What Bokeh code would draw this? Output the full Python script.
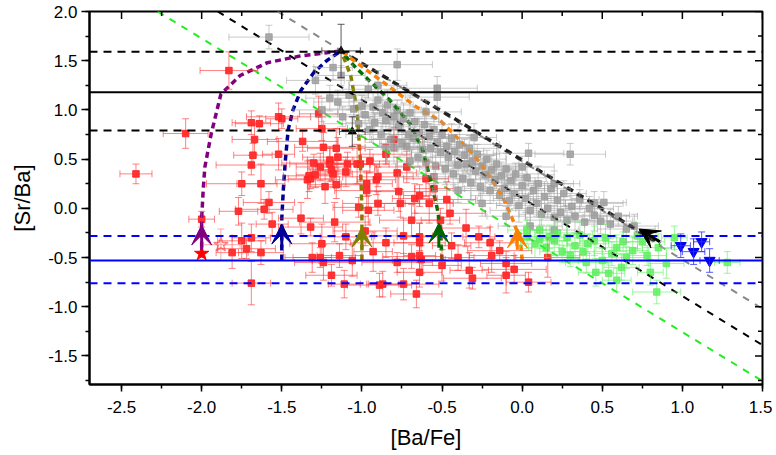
from bokeh.embed import file_html
from bokeh.resources import INLINE
from bokeh.plotting import figure
from bokeh.models import (ColumnDataSource, Range1d, Whisker, TeeHead,
                          Arrow, VeeHead, Span, SingleIntervalTicker, PrintfTickFormatter)

# ---- data ----
red_x = [-2.41, -2.10, -1.83, -1.69, -1.64, -1.52, -1.50, -1.27, -1.25, -1.67,
         -1.37, -1.16, -1.68, -1.52, -1.30, -1.26, -1.20, -1.19, -1.10, -1.03,
         -0.95, -1.69, -1.33, -1.29, -1.34, -1.32, -1.16, -1.23, -1.75, -1.63,
         -0.91, -1.58, -0.97, -1.77, -1.61, -1.38, -1.17, -1.56, -0.96, -1.32,
         -1.69, -1.75, -1.72, -1.81, -1.63, -1.25, -1.10, -1.31, -1.26, -1.24,
         -1.14, -1.06, -0.93, -1.19, -1.11, -1.69, -0.98, -1.09, -1.01, -0.90,
         -0.78, -0.97, -0.77, -0.64, -0.67, -0.47, -0.90, -0.76, -1.02, -0.58,
         -0.69, -0.51, -0.74, -0.64, -0.27, -0.85, -0.64, -0.44, -0.14, -0.19,
         -0.69, -0.64, -0.63, -0.78, -0.50, -0.10, 0.16, -0.64, -0.31, -0.10,
         -0.87, -0.74, 0.04, -0.66, -0.89, -0.33, -2.00, -1.24, -1.20, -1.15,
         -1.18, -0.85, -0.72, -0.60, -0.80, -0.55, -0.45, -0.35, -0.40, -0.20, -0.05]
red_y = [0.35, 0.76, 1.40, 0.87, 0.86, 0.93, 0.91, 0.96, 0.81, 0.70,
         0.68, 0.61, 0.54, 0.55, 0.46, 0.42, 0.45, 0.39, 0.37, 0.45,
         0.48, 0.44, 0.33, 0.34, 0.29, 0.30, 0.24, 0.22, 0.25, 0.25,
         0.29, 0.06, 0.18, -0.03, -0.01, -0.10, -0.14, -0.16, -0.02, -0.19,
         -0.30, -0.33, -0.41, -0.45, -0.45, -0.36, -0.29, -0.50, -0.50, -0.55,
         -0.48, -0.53, -0.44, -0.68, -0.77, -0.76, -0.23, 0.45, 0.45, 0.32,
         0.36, 0.25, 0.17, 0.13, 0.10, 0.09, 0.05, 0.05, 0.01, 0.05,
         -0.12, -0.12, -0.28, -0.29, -0.29, -0.35, -0.35, -0.38, -0.43, -0.48,
         -0.49, -0.48, -0.52, -0.55, -0.58, -0.56, -0.50, -0.65, -0.71, -0.68,
         -0.77, -0.77, -0.75, -0.87, -0.78, -0.63, -0.11, 0.62, 0.49, 0.52,
         0.35, 0.55, 0.42, 0.30, 0.70, 0.20, -0.05, -0.20, -0.50, -0.35, -0.62]
red_ex = [0.10, 0.14, 0.18, 0.12, 0.15, 0.20, 0.10, 0.12, 0.16, 0.14,
          0.22, 0.18, 0.12, 0.10, 0.20, 0.15, 0.25, 0.12, 0.18, 0.14,
          0.10, 0.22, 0.16, 0.12, 0.20, 0.14, 0.18, 0.10, 0.22, 0.15,
          0.12, 0.16, 0.20, 0.12, 0.18, 0.14, 0.22, 0.10, 0.16, 0.20,
          0.12, 0.15, 0.18, 0.10, 0.14, 0.20, 0.16, 0.12, 0.22, 0.18,
          0.14, 0.25, 0.12, 0.16, 0.10, 0.12, 0.20, 0.14, 0.18, 0.22,
          0.12, 0.16, 0.20, 0.10, 0.14, 0.18, 0.22, 0.12, 0.16, 0.15,
          0.20, 0.12, 0.18, 0.14, 0.10, 0.22, 0.16, 0.12, 0.20, 0.14,
          0.18, 0.10, 0.15, 0.22, 0.12, 0.16, 0.20, 0.14, 0.18, 0.12,
          0.10, 0.22, 0.14, 0.16, 0.20, 0.12, 0.08, 0.18, 0.14, 0.22,
          0.12, 0.16, 0.20, 0.14, 0.18, 0.12, 0.22, 0.15, 0.10, 0.16, 0.20]
red_ey = [0.10, 0.15, 0.19, 0.12, 0.08, 0.14, 0.10, 0.18, 0.12, 0.15,
          0.10, 0.20, 0.12, 0.16, 0.09, 0.14, 0.18, 0.11, 0.15, 0.20,
          0.12, 0.10, 0.16, 0.13, 0.19, 0.10, 0.14, 0.17, 0.12, 0.20,
          0.15, 0.11, 0.18, 0.14, 0.10, 0.16, 0.20, 0.12, 0.15, 0.09,
          0.14, 0.18, 0.10, 0.16, 0.12, 0.20, 0.13, 0.15, 0.10, 0.18,
          0.12, 0.16, 0.20, 0.11, 0.14, 0.22, 0.15, 0.12, 0.18, 0.10,
          0.16, 0.13, 0.20, 0.11, 0.15, 0.18, 0.12, 0.14, 0.10, 0.20,
          0.16, 0.12, 0.18, 0.14, 0.11, 0.15, 0.20, 0.13, 0.10, 0.17,
          0.12, 0.19, 0.14, 0.10, 0.16, 0.12, 0.20, 0.15, 0.11, 0.18,
          0.13, 0.16, 0.10, 0.14, 0.12, 0.18, 0.08, 0.15, 0.12, 0.20,
          0.14, 0.10, 0.16, 0.18, 0.12, 0.15, 0.11, 0.19, 0.13, 0.16, 0.14]

gray_x = [-1.15, -1.12, -1.08, -1.05, -1.02, -1.00, -0.98, -0.96, -0.95, -0.93,
          -0.92, -0.90, -0.88, -0.87, -0.85, -0.84, -0.82, -0.80, -0.80, -0.78,
          -0.77, -0.75, -0.74, -0.72, -0.71, -0.70, -0.68, -0.67, -0.65, -0.64,
          -0.62, -0.61, -0.60, -0.58, -0.57, -0.55, -0.54, -0.53, -0.51, -0.50,
          -0.48, -0.47, -0.46, -0.44, -0.43, -0.42, -0.40, -0.39, -0.37, -0.36,
          -0.35, -0.33, -0.32, -0.31, -0.29, -0.28, -0.26, -0.25, -0.23, -0.22,
          -0.20, -0.19, -0.17, -0.16, -0.14, -0.13, -0.11, -0.10, -0.08, -0.07,
          -0.05, -0.04, -0.02, 0.00, 0.02, 0.03, 0.05, 0.07, 0.09, 0.10,
          0.12, 0.14, 0.16, 0.18, 0.20, 0.22, 0.24, 0.26, 0.28, 0.31,
          0.33, 0.36, 0.39, 0.42, 0.45, 0.49, 0.51, 0.55, 0.60, 0.65,
          0.70, -1.58, -1.29, -1.18, -1.13, -0.78, -0.53, -0.53, 0.04, 0.30,
          -1.20, -1.25, -0.85, -0.70, -0.55, -0.40, -0.25, -0.10, 0.05, 0.20,
          -0.90, -0.60, -0.30, 0.00, 0.20, 0.45]
gray_y = [1.08, 0.93, 1.15, 1.01, 0.86, 1.04, 0.95, 1.21, 0.80, 1.03,
          0.87, 1.10, 0.75, 0.97, 0.89, 1.05, 0.70, 0.93, 0.62, 1.00,
          0.83, 0.66, 0.91, 0.63, 0.75, 0.97, 0.71, 0.88, 0.52, 0.77,
          0.60, 0.85, 0.47, 0.73, 0.61, 0.80, 0.43, 0.67, 0.57, 0.75,
          0.40, 0.63, 0.52, 0.71, 0.35, 0.58, 0.44, 0.65, 0.30, 0.54,
          0.45, 0.61, 0.26, 0.48, 0.38, 0.55, 0.22, 0.43, 0.34, 0.50,
          0.18, 0.39, 0.29, 0.45, 0.13, 0.33, 0.20, 0.40, 0.08, 0.28,
          0.15, 0.35, 0.03, 0.23, 0.10, 0.31, -0.02, 0.18, 0.05, 0.25,
          -0.06, 0.12, 0.00, 0.20, -0.09, 0.08, -0.04, 0.15, -0.12, 0.02,
          -0.08, 0.09, -0.14, 0.00, -0.07, -0.13, 0.06, -0.16, -0.08, -0.21,
          -0.18, 1.74, 1.30, 1.43, 1.35, 1.46, 1.22, 1.13, 0.56, 0.55,
          1.12, 1.00, 0.62, 0.48, 0.32, 0.18, 0.05, -0.08, -0.18, -0.22,
          1.25, 0.98, 0.72, 0.42, 0.25, 0.05]
gray_ex = [0.15, 0.20, 0.12, 0.18, 0.22, 0.14, 0.25, 0.16, 0.20, 0.12,
           0.18, 0.15, 0.22, 0.14, 0.20, 0.16, 0.12, 0.25, 0.18, 0.15,
           0.20, 0.14, 0.22, 0.16, 0.12, 0.18, 0.25, 0.15, 0.20, 0.14,
           0.16, 0.22, 0.18, 0.12, 0.20, 0.15, 0.25, 0.14, 0.18, 0.22,
           0.16, 0.12, 0.20, 0.15, 0.22, 0.18, 0.14, 0.25, 0.16, 0.20,
           0.12, 0.18, 0.22, 0.15, 0.20, 0.14, 0.16, 0.25, 0.18, 0.12,
           0.20, 0.15, 0.22, 0.14, 0.18, 0.16, 0.25, 0.12, 0.20, 0.15,
           0.22, 0.18, 0.14, 0.16, 0.20, 0.12, 0.25, 0.15, 0.18, 0.22,
           0.14, 0.16, 0.20, 0.12, 0.18, 0.15, 0.22, 0.14, 0.25, 0.16,
           0.20, 0.12, 0.18, 0.15, 0.22, 0.20, 0.14, 0.16, 0.12, 0.18,
           0.15, 0.25, 0.18, 0.12, 0.15, 0.22, 0.25, 0.20, 0.22, 0.22,
           0.15, 0.18, 0.20, 0.14, 0.22, 0.16, 0.18, 0.12, 0.20, 0.15,
           0.18, 0.22, 0.14, 0.20, 0.16, 0.18]
gray_ey = [0.12, 0.10, 0.15, 0.08, 0.14, 0.11, 0.18, 0.09, 0.13, 0.16,
           0.10, 0.14, 0.12, 0.18, 0.09, 0.15, 0.11, 0.13, 0.17, 0.10,
           0.14, 0.12, 0.16, 0.09, 0.13, 0.18, 0.11, 0.15, 0.10, 0.14,
           0.12, 0.17, 0.09, 0.13, 0.15, 0.11, 0.18, 0.10, 0.14, 0.12,
           0.16, 0.09, 0.13, 0.15, 0.11, 0.17, 0.10, 0.14, 0.12, 0.16,
           0.09, 0.13, 0.18, 0.11, 0.15, 0.10, 0.14, 0.12, 0.17, 0.09,
           0.13, 0.15, 0.11, 0.18, 0.10, 0.14, 0.12, 0.16, 0.09, 0.13,
           0.15, 0.11, 0.17, 0.10, 0.14, 0.12, 0.16, 0.09, 0.13, 0.18,
           0.11, 0.15, 0.10, 0.14, 0.12, 0.17, 0.09, 0.13, 0.15, 0.11,
           0.18, 0.10, 0.14, 0.12, 0.16, 0.13, 0.11, 0.15, 0.10, 0.14,
           0.12, 0.12, 0.14, 0.12, 0.10, 0.16, 0.12, 0.10, 0.10, 0.11,
           0.13, 0.12, 0.14, 0.11, 0.15, 0.12, 0.13, 0.10, 0.14, 0.12,
           0.15, 0.12, 0.14, 0.11, 0.13, 0.12]

green_x = [0.03, 0.11, 0.20, 0.25, 0.33, 0.38, 0.45, 0.50, 0.46, 0.54,
           0.59, 0.59, 0.63, 0.69, 0.75, 0.80, 0.84, 0.90, 1.28, 0.03,
           0.11, 0.17, 0.08, 0.15, 0.22, 0.28, 0.30, 0.36, 0.41, 0.52,
           0.56, 0.65, 0.72, 0.78, 0.85, 0.95, 0.40, 0.62]
green_y = [-0.29, -0.31, -0.33, -0.44, -0.38, -0.44, -0.33, -0.53, -0.65, -0.66,
           -0.40, -0.73, -0.34, -0.43, -0.34, -0.65, -0.85, -0.56, -0.55, -0.22,
           -0.22, -0.29, -0.36, -0.40, -0.25, -0.30, -0.48, -0.27, -0.36, -0.30,
           -0.46, -0.50, -0.28, -0.48, -0.40, -0.30, -0.55, -0.60]
green_ex = [0.10, 0.12, 0.08, 0.14, 0.10, 0.12, 0.09, 0.15, 0.11, 0.10,
            0.13, 0.09, 0.12, 0.10, 0.14, 0.08, 0.15, 0.11, 0.08, 0.12,
            0.10, 0.13, 0.09, 0.11, 0.14, 0.10, 0.12, 0.08, 0.13, 0.10,
            0.11, 0.14, 0.09, 0.12, 0.10, 0.08, 0.13, 0.11]
green_ey = [0.12, 0.10, 0.14, 0.11, 0.13, 0.10, 0.15, 0.12, 0.14, 0.11,
            0.13, 0.12, 0.10, 0.14, 0.11, 0.13, 0.12, 0.15, 0.11, 0.10,
            0.13, 0.12, 0.14, 0.10, 0.12, 0.15, 0.11, 0.13, 0.10, 0.14,
            0.12, 0.11, 0.13, 0.10, 0.14, 0.12, 0.11, 0.13]

blue_x = [0.99, 1.07, 1.12, 1.17]
blue_y = [-0.38, -0.44, -0.34, -0.53]
blue_ex = [0.06, 0.07, 0.05, 0.06]
blue_ey = [0.12, 0.13, 0.10, 0.12]

tri_x = [-1.13, -1.06]
tri_y = [1.60, 0.78]
tri_ex = [0.12, 0.08]
tri_ey = [0.27, 0.15]

star_x = [-2.00]
star_y = [-0.46]
ostar_x = [-1.88]
ostar_y = [-0.37]
ostar_ex = [0.12]
ostar_ey = [0.16]

# horizontal reference levels
black_solid = [1.18]
black_dashed = [1.59, 0.79]
blue_solid = [-0.53]
blue_dashed = [-0.28, -0.76]

# diagonal dashed lines (end points)
diag_green_x, diag_green_y = [-2.275, 1.5], [2.0, -1.755]
diag_black_x, diag_black_y = [-1.90, 1.5], [2.0, -1.39]
diag_gray_x, diag_gray_y = [-1.527, 1.5], [2.0, -1.02]
dark_x, dark_y = [-1.13, -0.37, 0.07, 0.86], [1.60, 0.86, 0.42, -0.36]

# mixing curves
purple_x = [-2.00, -2.00, -1.99, -1.98, -1.94, -1.88, -1.76, -1.59, -1.38, -1.22, -1.13]
purple_y = [-0.50, -0.10, 0.20, 0.42, 0.76, 1.16, 1.35, 1.48, 1.55, 1.58, 1.60]
navy_x = [-1.50, -1.50, -1.49, -1.477, -1.46, -1.43, -1.38, -1.30, -1.22, -1.13]
navy_y = [-0.53, -0.10, 0.20, 0.50, 0.80, 1.00, 1.20, 1.38, 1.50, 1.60]
olive_x = [-1.00, -1.00, -1.01, -1.03, -1.07, -1.13]
olive_y = [-0.53, 0.00, 0.50, 1.00, 1.35, 1.60]
dgreen_x = [-0.50, -0.51, -0.53, -0.57, -0.62, -0.70, -0.82, -0.93, -1.05, -1.13]
dgreen_y = [-0.53, -0.20, 0.00, 0.28, 0.59, 0.86, 1.09, 1.26, 1.45, 1.60]
orange_x = [0.00, -0.01, -0.06, -0.12, -0.22, -0.30, -0.43, -0.51, -0.66, -0.865, -1.05, -1.13]
orange_y = [-0.53, -0.33, -0.11, 0.11, 0.37, 0.54, 0.76, 0.89, 1.03, 1.28, 1.50, 1.60]

arrow_x = [-2.00, -1.50, -1.00, -0.52, -0.03]
arrow_y0 = [-0.42, -0.40, -0.41, -0.40, -0.42]
arrow_y1 = [-0.17, -0.16, -0.19, -0.15, -0.20]
arrow_colors = ["#800080", "#000099", "#808000", "#006600", "#ff8000"]
black_arrow = [0.86, -0.34, 0.73, -0.21]

# mirror ticks on the top and right frame edges
top_major = [-2.5, -2.0, -1.5, -1.0, -0.5, 0.0, 0.5, 1.0, 1.5]
top_minor = [-2.25, -1.75, -1.25, -0.75, -0.25, 0.25, 0.75, 1.25]
right_major = [-1.5, -1.0, -0.5, 0.0, 0.5, 1.0, 1.5, 2.0]
right_minor = [-1.75, -1.25, -0.75, -0.25, 0.25, 0.75, 1.25, 1.75]

FONT = "Liberation Sans"
X0, X1, Y0, Y1 = -2.7, 1.5, -1.79, 2.0

p = figure(frame_width=673, frame_height=373,
           x_range=Range1d(X0, X1), y_range=Range1d(Y0, Y1),
           output_backend="svg", toolbar_location=None,
           min_border_left=89, min_border_top=11, min_border_right=10, min_border_bottom=4)
p.xgrid.visible = False
p.ygrid.visible = False
p.outline_line_color = "black"
p.outline_line_width = 2


def err_source(xs, ys, exs, eys):
    return ColumnDataSource(dict(
        x=xs, y=ys,
        xl=[a - e for a, e in zip(xs, exs)], xu=[a + e for a, e in zip(xs, exs)],
        yl=[b - e for b, e in zip(ys, eys)], yu=[b + e for b, e in zip(ys, eys)]))


def add_err(src, color, alpha, cap=7):
    for dim, base, lo, up in (("height", "x", "yl", "yu"), ("width", "y", "xl", "xu")):
        p.add_layout(Whisker(source=src, base=base, lower=lo, upper=up, dimension=dim,
                             line_color=color, line_alpha=alpha, line_width=1, level="glyph",
                             upper_head=TeeHead(size=cap, line_color=color, line_alpha=alpha),
                             lower_head=TeeHead(size=cap, line_color=color, line_alpha=alpha)))


red_src = err_source(red_x, red_y, red_ex, red_ey)
gray_src = err_source(gray_x, gray_y, gray_ex, gray_ey)
green_src = err_source(green_x, green_y, green_ex, green_ey)
blue_src = err_source(blue_x, blue_y, blue_ex, blue_ey)
tri_src = err_source(tri_x, tri_y, tri_ex, tri_ey)
ostar_src = err_source(ostar_x, ostar_y, ostar_ex, ostar_ey)

add_err(red_src, "#ff3030", 0.6)
p.scatter("x", "y", source=red_src, marker="square", size=6.5, color="#ff1f1f", alpha=0.9)
add_err(gray_src, "#9e9e9e", 0.55)
p.scatter("x", "y", source=gray_src, marker="square", size=6.5, color="#979797", alpha=0.8)
add_err(green_src, "#5cf05c", 0.6)
p.scatter("x", "y", source=green_src, marker="square", size=6.5, color="#62ee62", alpha=0.85)

# reference levels
for loc in black_solid:
    p.add_layout(Span(location=loc, dimension="width", line_color="black", line_width=2))
for loc in black_dashed:
    p.add_layout(Span(location=loc, dimension="width", line_color="black", line_width=2,
                      line_dash="8 6"))
for loc in blue_solid:
    p.add_layout(Span(location=loc, dimension="width", line_color="#0000ff", line_width=2))
for loc in blue_dashed:
    p.add_layout(Span(location=loc, dimension="width", line_color="#0000ff", line_width=2,
                      line_dash="8 6"))

p.line(diag_green_x, diag_green_y, line_color="#22ee22", line_width=2, line_dash="7 7")
p.line(diag_black_x, diag_black_y, line_color="black", line_width=2, line_dash="7 7")
p.line(diag_gray_x, diag_gray_y, line_color="#888888", line_width=2, line_dash="7 7")
p.line(dark_x, dark_y, line_color="#222222", line_width=3.5, line_dash="7 5")

for xs, ys, c in ((purple_x, purple_y, "#800080"), (navy_x, navy_y, "#000099"),
                  (olive_x, olive_y, "#808000"), (dgreen_x, dgreen_y, "#007000"),
                  (orange_x, orange_y, "#ff8000")):
    p.line(xs, ys, line_color=c, line_width=3.5, line_dash="6 4")

for ax, y0, y1, c in zip(arrow_x, arrow_y0, arrow_y1, arrow_colors):
    p.add_layout(Arrow(x_start=ax, y_start=y0, x_end=ax, y_end=y1, line_color=c, line_width=3,
                       end=VeeHead(size=20, fill_color=c, line_color=c, line_width=1)))
p.add_layout(Arrow(x_start=black_arrow[0], y_start=black_arrow[1],
                   x_end=black_arrow[2], y_end=black_arrow[3], line_color="black", line_width=3,
                   end=VeeHead(size=20, fill_color="black", line_color="black")))

add_err(blue_src, "#3030ff", 0.8)
p.scatter("x", "y", source=blue_src, marker="inverted_triangle", size=11, color="#0000ee")
add_err(tri_src, "#333333", 0.8)
p.scatter("x", "y", source=tri_src, marker="triangle", size=8, color="black")
add_err(ostar_src, "#ff8080", 0.7)
p.scatter("x", "y", source=ostar_src, marker="star", size=15, fill_color=None,
          line_color="#ff8080", line_width=1.5)
p.scatter(star_x, star_y, marker="star", size=15, color="#ff0000")

# mirror ticks (half of each dash falls outside the frame and is clipped)
p.scatter(top_major, [Y1] * len(top_major), marker="dash", angle=1.5708, size=15,
          line_color="black", line_width=1.5)
p.scatter(top_minor, [Y1] * len(top_minor), marker="dash", angle=1.5708, size=9,
          line_color="black", line_width=1.5)
p.scatter([X1] * len(right_major), right_major, marker="dash", size=15,
          line_color="black", line_width=1.5)
p.scatter([X1] * len(right_minor), right_minor, marker="dash", size=9,
          line_color="black", line_width=1.5)

# axes
for ax in (p.xaxis[0], p.yaxis[0]):
    ax.ticker = SingleIntervalTicker(interval=0.5, num_minor_ticks=2)
    ax.formatter = PrintfTickFormatter(format="%.1f")
    ax.axis_line_width = 2
    ax.major_tick_line_width = 1.5
    ax.minor_tick_line_width = 1.5
    ax.major_tick_in = 0
    ax.minor_tick_in = 0
    ax.major_label_text_font = FONT
    ax.major_label_text_font_size = "17px"
    ax.major_label_text_color = "black"
    ax.axis_label_text_font = FONT
    ax.axis_label_text_font_size = "22px"
    ax.axis_label_text_font_style = "normal"
    ax.axis_label_text_color = "black"
p.xaxis.major_tick_out = 7
p.xaxis.minor_tick_out = 4
p.xaxis.major_label_standoff = 9
p.xaxis.axis_label = "[Ba/Fe]"
p.xaxis.axis_label_standoff = 9
p.yaxis.major_tick_out = 8
p.yaxis.minor_tick_out = 4
p.yaxis.major_label_standoff = 4
p.yaxis.axis_label = "[Sr/Ba]"
p.yaxis.axis_label_standoff = 10

open("out.html", "w").write(file_html(p, INLINE))
